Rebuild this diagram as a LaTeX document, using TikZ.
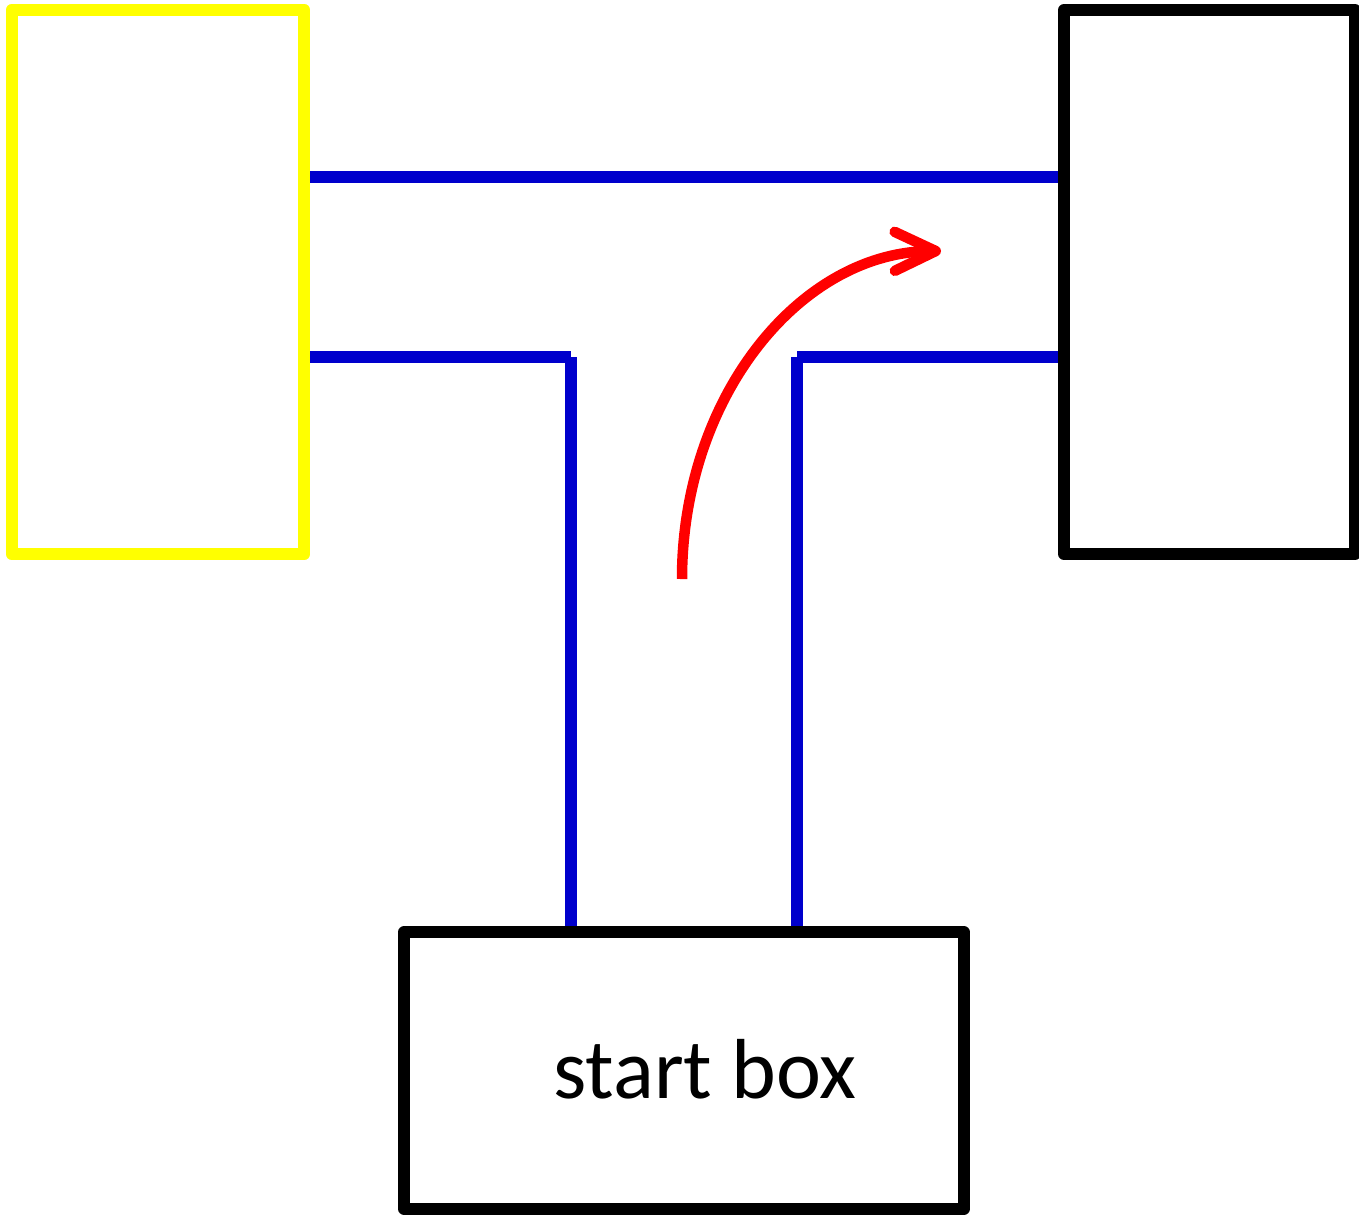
\documentclass[tikz,border=0pt]{standalone}
\usepackage{fontspec}
\setmainfont{Carlito}
\usetikzlibrary{arrows.meta}
\definecolor{wallblue}{RGB}{0,0,204}
\definecolor{boxyellow}{RGB}{255,255,0}
\definecolor{arrowred}{RGB}{255,0,0}
\begin{document}
\begin{tikzpicture}[x=0.02cm,y=-0.02cm,
  box/.style={draw, line width=0.24cm, line join=round, inner sep=0pt, fill=white},
  wall/.style={draw=wallblue, line width=0.23cm, line cap=butt},
  turn/.style={draw=arrowred, line width=0.21cm, line cap=butt,
    -{Straight Barb[round, length=0.82cm, width=0.78cm]}}]
\useasboundingbox (0,0) rectangle (1359,1214);
\fill[white] (0,0) rectangle (1359,1214);
% nodes
\node[box, draw=boxyellow, fill=none, minimum width=5.86cm, minimum height=10.88cm] (L) at (158,282) {};
\node[box, draw=black, fill=none, minimum width=5.82cm, minimum height=10.88cm] (R) at (1209.5,282) {};
\coordinate (t) at (0,177);
\coordinate (c1) at (571,357);
\coordinate (c2) at (797,357);
\coordinate (S0) at (684,1070.5);
% blue walls
\draw[wall] (L.east |- t) -- (R.west |- t);
\draw[wall] (L.east |- c1) -- (c1);
\draw[wall] (c1) -- (c1 |- 0,932);
\draw[wall] (c2) -- (c2 |- 0,932);
\draw[wall] (c2) -- (R.west |- c2);
% start box
\node[box, draw=black, fill=none, minimum width=11.19cm, minimum height=5.54cm] (S) at (S0) {};
\node[anchor=base, inner sep=0pt, font=\fontsize{48.5}{58}\selectfont] (lbl) at (705,1098) {start box};
% red arrow
\coordinate (a0) at (682,579);
\coordinate (a1) at (941,251);
\draw[turn] (a0) .. controls (682,397) and (800,252) .. (a1);
\end{tikzpicture}
\end{document}
